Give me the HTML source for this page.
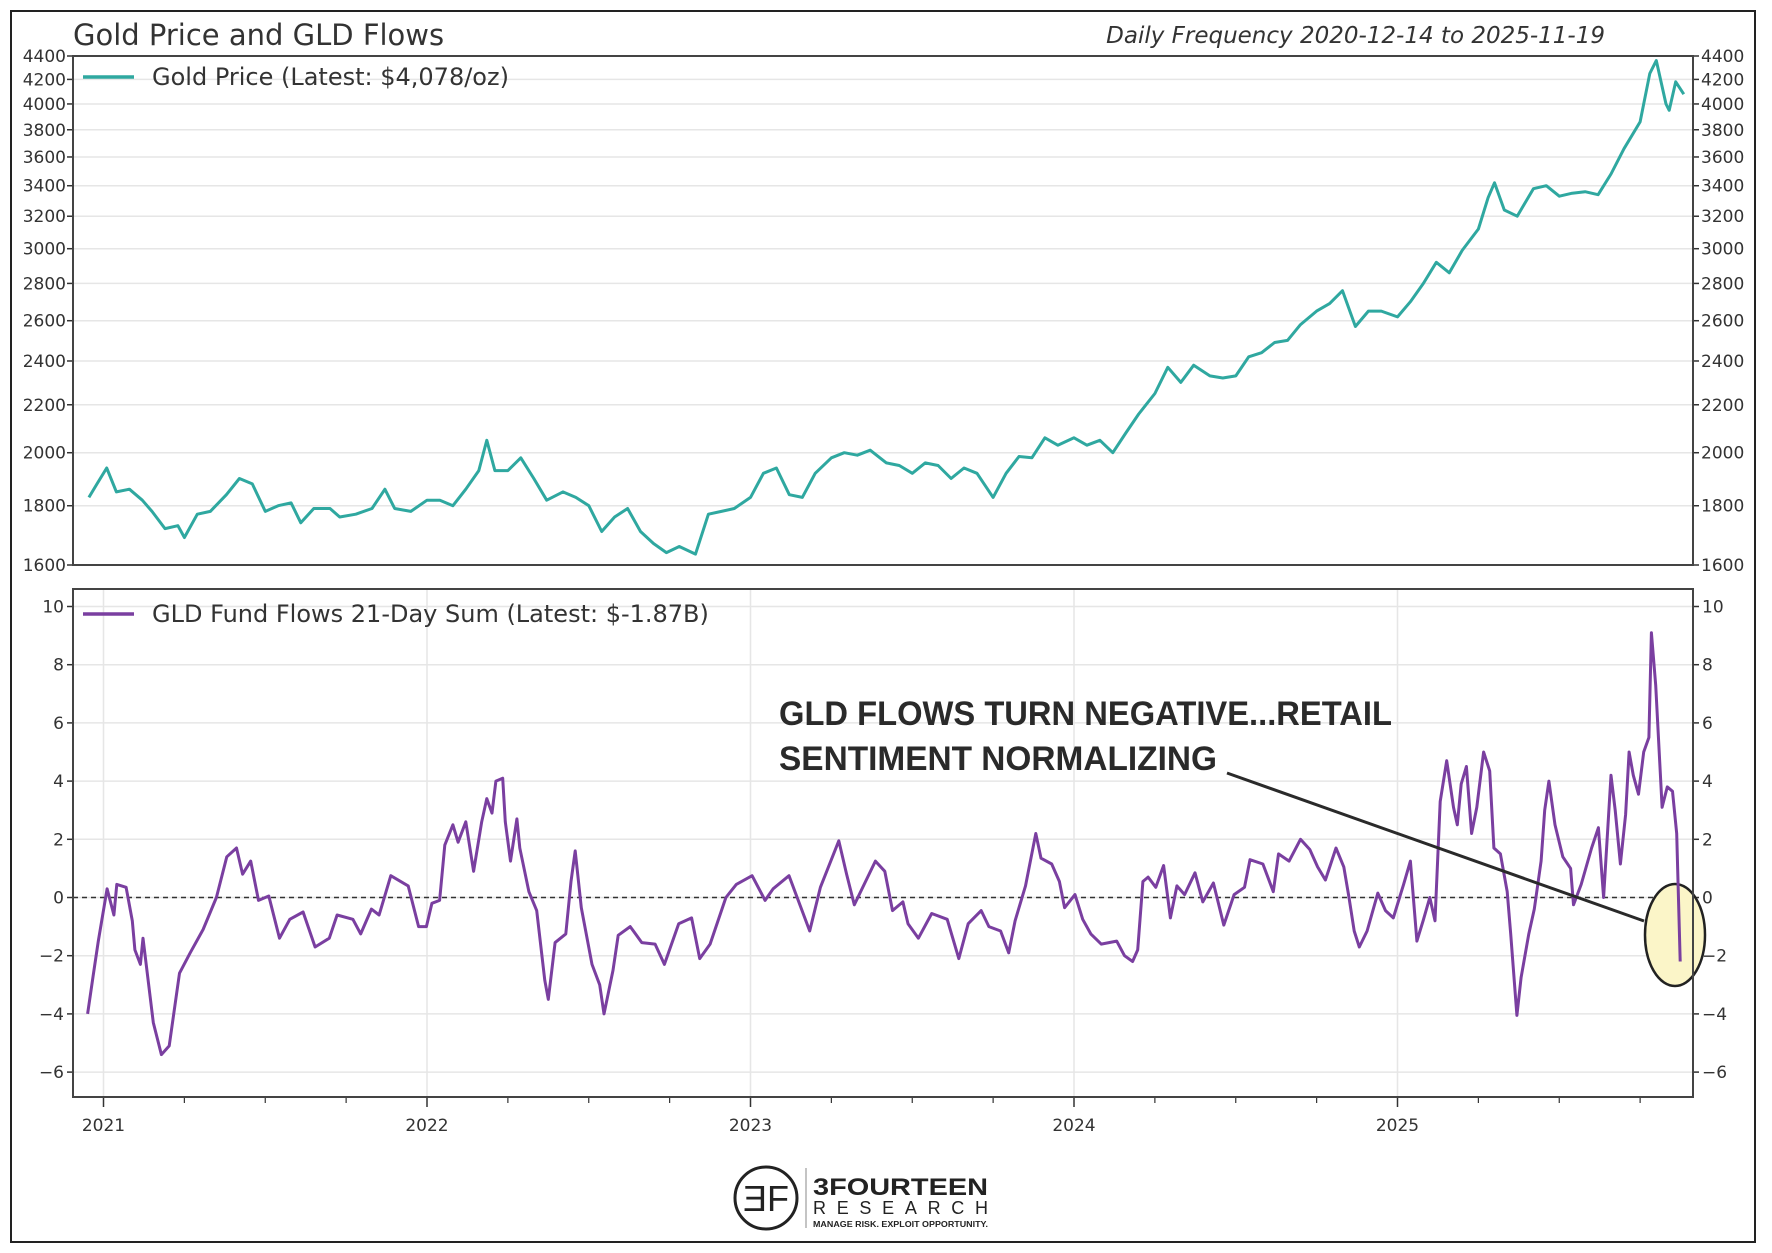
<!DOCTYPE html>
<html><head><meta charset="utf-8"><style>
html,body{margin:0;padding:0;background:#fff;}
svg{display:block;font-family:"DejaVu Sans","Liberation Sans",sans-serif;}
</style></head><body>
<svg id="chart" width="1772" height="1253" viewBox="0 0 1772 1253" xmlns="http://www.w3.org/2000/svg">
<rect x="11" y="11" width="1744" height="1231" fill="#fff" stroke="#222" stroke-width="2"/>
<text x="73" y="45" font-size="29" fill="#333">Gold Price and GLD Flows</text>
<text x="1605" y="43" font-size="23" font-style="italic" fill="#333" text-anchor="end">Daily Frequency 2020-12-14 to 2025-11-19</text>
<g id="topPanel"></g>
<g id="botPanel"></g>
<g>
<text x="779" y="725" font-family="Liberation Sans, sans-serif" font-weight="bold" font-size="34" fill="#2a2a2a" textLength="613" lengthAdjust="spacingAndGlyphs">GLD FLOWS TURN NEGATIVE...RETAIL</text>
<text x="779" y="770" font-family="Liberation Sans, sans-serif" font-weight="bold" font-size="34" fill="#2a2a2a" textLength="438" lengthAdjust="spacingAndGlyphs">SENTIMENT NORMALIZING</text>
<line x1="1227" y1="773" x2="1644" y2="921" stroke="#2a2a2a" stroke-width="3"/>
</g>
<g>
<circle cx="766" cy="1198" r="31" fill="none" stroke="#222" stroke-width="3"/>
<text x="766" y="1211" font-size="36" text-anchor="middle" fill="#222" font-family="Liberation Sans, sans-serif">ƎF</text>
<line x1="806" y1="1168" x2="806" y2="1228" stroke="#888" stroke-width="1"/>
<text x="813" y="1195" font-size="24" font-weight="bold" fill="#222" font-family="Liberation Sans, sans-serif" textLength="175" lengthAdjust="spacingAndGlyphs">3FOURTEEN</text>
<text x="813" y="1214" font-size="18" fill="#222" font-family="Liberation Sans, sans-serif" textLength="175" lengthAdjust="spacing">RESEARCH</text>
<text x="813" y="1227" font-size="8" font-weight="bold" fill="#222" font-family="Liberation Sans, sans-serif" textLength="175" lengthAdjust="spacingAndGlyphs">MANAGE RISK. EXPLOIT OPPORTUNITY.</text>
</g>
</svg>
<script>
const goldT=[2020.955,2020.98,2021.01,2021.04,2021.08,2021.12,2021.15,2021.19,2021.23,2021.25,2021.29,2021.33,2021.38,2021.42,2021.46,2021.5,2021.54,2021.58,2021.61,2021.65,2021.7,2021.73,2021.78,2021.83,2021.87,2021.9,2021.95,2022.0,2022.04,2022.08,2022.12,2022.16,2022.185,2022.21,2022.25,2022.29,2022.33,2022.37,2022.42,2022.46,2022.5,2022.54,2022.58,2022.62,2022.66,2022.7,2022.74,2022.78,2022.83,2022.87,2022.91,2022.95,2023.0,2023.04,2023.08,2023.12,2023.16,2023.2,2023.25,2023.29,2023.33,2023.37,2023.42,2023.46,2023.5,2023.54,2023.58,2023.62,2023.66,2023.7,2023.75,2023.79,2023.83,2023.87,2023.91,2023.95,2024.0,2024.04,2024.08,2024.12,2024.16,2024.2,2024.25,2024.29,2024.33,2024.37,2024.42,2024.46,2024.5,2024.54,2024.58,2024.62,2024.66,2024.7,2024.75,2024.79,2024.83,2024.87,2024.91,2024.95,2025.0,2025.04,2025.08,2025.12,2025.16,2025.2,2025.25,2025.28,2025.3,2025.33,2025.37,2025.42,2025.46,2025.5,2025.54,2025.58,2025.62,2025.66,2025.7,2025.75,2025.78,2025.8,2025.83,2025.84,2025.86,2025.885];
const goldV=[1830,1880,1940,1850,1860,1820,1780,1720,1730,1690,1770,1780,1840,1900,1880,1780,1800,1810,1740,1790,1790,1760,1770,1790,1860,1790,1780,1820,1820,1800,1860,1930,2050,1930,1930,1980,1900,1820,1850,1830,1800,1710,1760,1790,1710,1670,1640,1660,1635,1770,1780,1790,1830,1920,1940,1840,1830,1920,1980,2000,1990,2010,1960,1950,1920,1960,1950,1900,1940,1920,1830,1920,1985,1980,2060,2030,2060,2030,2050,2000,2080,2160,2250,2370,2300,2380,2330,2320,2330,2420,2440,2490,2500,2580,2650,2690,2760,2570,2650,2650,2620,2700,2800,2920,2860,2990,3120,3320,3420,3240,3200,3380,3400,3330,3350,3360,3340,3480,3660,3860,4250,4360,4000,3950,4180,4078];
const goldTicks=[1600,1800,2000,2200,2400,2600,2800,3000,3200,3400,3600,3800,4000,4200,4400];
const flowT=[2020.951,2020.968,2020.984,2021.011,2021.032,2021.041,2021.070,2021.089,2021.097,2021.114,2021.122,2021.154,2021.179,2021.203,2021.235,2021.268,2021.308,2021.349,2021.381,2021.411,2021.430,2021.455,2021.479,2021.511,2021.544,2021.576,2021.617,2021.654,2021.698,2021.722,2021.771,2021.795,2021.828,2021.852,2021.888,2021.942,2021.974,2021.998,2022.015,2022.039,2022.055,2022.080,2022.096,2022.120,2022.144,2022.169,2022.185,2022.201,2022.213,2022.234,2022.242,2022.258,2022.278,2022.287,2022.315,2022.339,2022.364,2022.375,2022.396,2022.429,2022.445,2022.458,2022.477,2022.510,2022.534,2022.547,2022.575,2022.591,2022.628,2022.664,2022.705,2022.734,2022.778,2022.818,2022.843,2022.875,2022.924,2022.956,2023.005,2023.045,2023.070,2023.119,2023.183,2023.216,2023.273,2023.297,2023.321,2023.386,2023.415,2023.439,2023.471,2023.487,2023.519,2023.560,2023.608,2023.644,2023.673,2023.713,2023.737,2023.773,2023.798,2023.818,2023.850,2023.882,2023.898,2023.931,2023.955,2023.971,2024.003,2024.027,2024.052,2024.084,2024.132,2024.156,2024.181,2024.197,2024.213,2024.229,2024.253,2024.277,2024.298,2024.318,2024.342,2024.374,2024.398,2024.431,2024.463,2024.495,2024.527,2024.544,2024.584,2024.616,2024.632,2024.665,2024.700,2024.729,2024.753,2024.777,2024.810,2024.834,2024.850,2024.866,2024.882,2024.906,2024.939,2024.963,2024.987,2025.019,2025.040,2025.060,2025.079,2025.100,2025.116,2025.132,2025.152,2025.173,2025.185,2025.197,2025.213,2025.229,2025.245,2025.266,2025.285,2025.298,2025.318,2025.339,2025.350,2025.369,2025.382,2025.406,2025.423,2025.444,2025.455,2025.468,2025.487,2025.511,2025.535,2025.544,2025.568,2025.600,2025.621,2025.637,2025.660,2025.673,2025.689,2025.705,2025.716,2025.729,2025.745,2025.761,2025.777,2025.785,2025.798,2025.818,2025.834,2025.850,2025.863,2025.874];
const flowV=[-4.0,-2.7,-1.5,0.3,-0.6,0.45,0.35,-0.8,-1.8,-2.3,-1.4,-4.3,-5.4,-5.1,-2.6,-1.9,-1.1,0,1.4,1.7,0.8,1.25,-0.1,0.05,-1.4,-0.75,-0.5,-1.7,-1.4,-0.6,-0.75,-1.25,-0.4,-0.6,0.75,0.4,-1.0,-1.0,-0.2,-0.1,1.8,2.5,1.9,2.6,0.9,2.6,3.4,2.9,4.0,4.1,2.6,1.25,2.7,1.7,0.2,-0.45,-2.85,-3.5,-1.55,-1.25,0.55,1.6,-0.35,-2.3,-3.0,-4.0,-2.5,-1.3,-1.0,-1.55,-1.6,-2.3,-0.9,-0.7,-2.1,-1.6,0,0.45,0.75,-0.1,0.3,0.75,-1.15,0.35,1.95,0.8,-0.25,1.25,0.9,-0.45,-0.15,-0.9,-1.4,-0.55,-0.75,-2.1,-0.9,-0.45,-1.0,-1.15,-1.9,-0.8,0.4,2.2,1.35,1.15,0.55,-0.35,0.1,-0.75,-1.25,-1.6,-1.5,-2.0,-2.2,-1.8,0.55,0.7,0.35,1.1,-0.7,0.4,0.1,0.85,-0.15,0.5,-0.95,0.1,0.35,1.3,1.15,0.2,1.5,1.25,2.0,1.65,1.05,0.6,1.7,1.05,0,-1.15,-1.7,-1.15,0.15,-0.45,-0.7,0.45,1.25,-1.5,-0.8,0,-0.8,3.3,4.7,3.1,2.5,3.9,4.5,2.2,3.1,5.0,4.35,1.7,1.5,0.2,-1.25,-4.05,-2.75,-1.25,-0.4,1.25,3.0,4.0,2.5,1.4,1.0,-0.25,0.45,1.7,2.4,0,4.2,3.0,1.15,2.85,5.0,4.2,3.55,5.0,5.5,9.1,7.3,3.1,3.8,3.65,2.2,-2.2];
const flowTicks=[-6,-4,-2,0,2,4,6,8,10];
const yearTicks=[2021,2022,2023,2024,2025];

const NS='http://www.w3.org/2000/svg';
const L=73,R=1693,BT=589,BB=1097;
const x=t=>103.5+(t-2021)*323.5;
const yG=v=>565-(Math.log(v/1600)/Math.log(4400/1600))*509;
const yF=v=>897.5-v*29.1;
function mk(p,tag,a){const e=document.createElementNS(NS,tag);for(const k in a)e.setAttribute(k,a[k]);p.appendChild(e);return e;}
const topG=document.getElementById('topPanel'),botG=document.getElementById('botPanel');

for(const v of goldTicks){const y=yG(v);
 const g=mk(topG,'line',{x1:L,x2:R,y1:y,y2:y,stroke:'#e6e6e6','stroke-width':1.5});
 
 
 mk(topG,'line',{x1:L-6,x2:L,y1:y,y2:y,stroke:'#333','stroke-width':1.5});
 mk(topG,'line',{x1:R,x2:R+6,y1:y,y2:y,stroke:'#333','stroke-width':1.5});
 const t1=mk(topG,'text',{x:L-7,y:y+6,'font-size':17,fill:'#333','text-anchor':'end'});t1.textContent=v;
 
 
 const t2=mk(topG,'text',{x:R+8,y:y+6,'font-size':17,fill:'#333'});t2.textContent=v;
 
 
}
const gp=mk(topG,'polyline',{points:goldT.map((t,i)=>x(t).toFixed(1)+','+yG(goldV[i]).toFixed(1)).join(' '),fill:'none',stroke:'#2FA8A0','stroke-width':3,'stroke-linejoin':'round'});


const tf=mk(topG,'rect',{x:L,y:56,width:R-L,height:509,fill:'none',stroke:'#444','stroke-width':2});


mk(topG,'line',{x1:83,x2:134,y1:77,y2:77,stroke:'#2FA8A0','stroke-width':3.5});
const lt=mk(topG,'text',{x:152,y:85,'font-size':24,fill:'#333'});lt.textContent='Gold Price (Latest: $4,078/oz)';



for(const v of flowTicks){const y=yF(v);
 const g=mk(botG,'line',{x1:L,x2:R,y1:y,y2:y,stroke:'#e6e6e6','stroke-width':1.5});
 
 
 mk(botG,'line',{x1:L-6,x2:L,y1:y,y2:y,stroke:'#333','stroke-width':1.5});
 mk(botG,'line',{x1:R,x2:R+6,y1:y,y2:y,stroke:'#333','stroke-width':1.5});
 const lab=v<0?'\u2212'+(-v):String(v);
 const t1=mk(botG,'text',{x:L-9,y:y+6,'font-size':17,fill:'#333','text-anchor':'end'});t1.textContent=lab;
 
 
 const t2=mk(botG,'text',{x:R+9,y:y+6,'font-size':17,fill:'#333'});t2.textContent=lab;
 
 
}
for(const yr of yearTicks){const xx=x(yr);
 const g=mk(botG,'line',{x1:xx,x2:xx,y1:BT,y2:BB,stroke:'#e6e6e6','stroke-width':1.5});
 
 
 mk(botG,'line',{x1:xx,x2:xx,y1:BB,y2:BB+10,stroke:'#333','stroke-width':1.5});
 const t=mk(botG,'text',{x:xx,y:1131,'font-size':17,fill:'#333','text-anchor':'middle'});t.textContent=yr;
 
 
 for(const q of [0.25,0.5,0.75]){const qx=x(yr+q);if(qx<R)mk(botG,'line',{x1:qx,x2:qx,y1:BB,y2:BB+6,stroke:'#333','stroke-width':1.2});}
}
const zl=mk(botG,'line',{x1:L,x2:R,y1:yF(0),y2:yF(0),stroke:'#333','stroke-width':1.5,'stroke-dasharray':'5,4'});


const el=mk(botG,'ellipse',{cx:1675,cy:935,rx:30,ry:51,fill:'#fbf5c8',stroke:'#222','stroke-width':2.5});


const fp=mk(botG,'polyline',{points:flowT.map((t,i)=>x(t).toFixed(1)+','+yF(flowV[i]).toFixed(1)).join(' '),fill:'none',stroke:'#7A3FA0','stroke-width':3,'stroke-linejoin':'round'});


const bf=mk(botG,'rect',{x:L,y:BT,width:R-L,height:BB-BT,fill:'none',stroke:'#444','stroke-width':2});


mk(botG,'line',{x1:83,x2:134,y1:614,y2:614,stroke:'#7A3FA0','stroke-width':3.5});
const lb=mk(botG,'text',{x:152,y:622,'font-size':24,fill:'#333'});lb.textContent='GLD Fund Flows 21-Day Sum (Latest: $-1.87B)';


</script>
</body></html>
